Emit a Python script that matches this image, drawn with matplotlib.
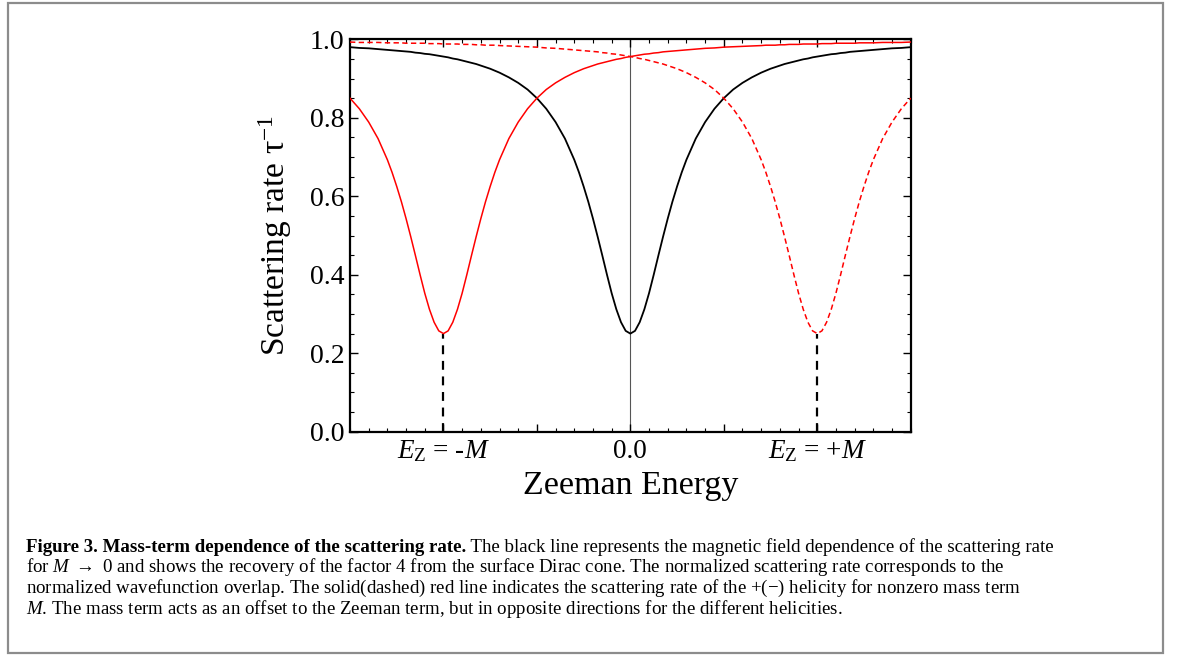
import matplotlib
matplotlib.use("Agg")
import matplotlib.pyplot as plt
from matplotlib.patches import Rectangle
from matplotlib.ticker import MultipleLocator, FixedLocator

plt.rcParams['font.family'] = ['Liberation Serif', 'DejaVu Serif']
plt.rcParams['mathtext.fontset'] = 'custom'
plt.rcParams['mathtext.rm'] = 'Liberation Serif'
plt.rcParams['mathtext.it'] = 'Liberation Serif:italic'
plt.rcParams['mathtext.bf'] = 'Liberation Serif:bold'

# Zeeman energy in units of the mass term M
zeeman = [-1.5, -1.45, -1.4, -1.35,
          -1.3, -1.275, -1.25, -1.225, -1.2, -1.175, -1.15, -1.125, -1.1, -1.075,
          -1.05, -1.025, -1.0, -0.975, -0.95, -0.925, -0.9, -0.875, -0.85, -0.825,
          -0.8, -0.775, -0.75, -0.725, -0.7,
          -0.65, -0.6, -0.55, -0.5, -0.45, -0.4, -0.35,
          -0.3, -0.275, -0.25, -0.225, -0.2, -0.175, -0.15, -0.125, -0.1, -0.075,
          -0.05, -0.025, 0.0, 0.025, 0.05, 0.075, 0.1, 0.125, 0.15, 0.175,
          0.2, 0.225, 0.25, 0.275, 0.3,
          0.35, 0.4, 0.45, 0.5, 0.55, 0.6, 0.65,
          0.7, 0.725, 0.75, 0.775, 0.8, 0.825, 0.85, 0.875, 0.9, 0.925,
          0.95, 0.975, 1.0, 1.025, 1.05, 1.075, 1.1, 1.125, 1.15, 1.175,
          1.2, 1.225, 1.25, 1.275, 1.3,
          1.35, 1.4, 1.45, 1.5]

# M -> 0 (black)
rate_massless = [0.980, 0.978, 0.977, 0.975,
                 0.973, 0.972, 0.971, 0.970, 0.969, 0.968, 0.966, 0.965, 0.963, 0.962,
                 0.960, 0.958, 0.956, 0.954, 0.951, 0.949, 0.946, 0.943, 0.940, 0.937,
                 0.933, 0.929, 0.925, 0.920, 0.915,
                 0.903, 0.889, 0.872, 0.850, 0.823, 0.789, 0.747,
                 0.693, 0.661, 0.625, 0.586, 0.543, 0.497, 0.449, 0.400, 0.353, 0.312,
                 0.279, 0.257, 0.250, 0.257, 0.279, 0.312, 0.353, 0.400, 0.449, 0.497,
                 0.543, 0.586, 0.625, 0.661, 0.693,
                 0.747, 0.789, 0.823, 0.850, 0.872, 0.889, 0.903,
                 0.915, 0.920, 0.925, 0.929, 0.933, 0.937, 0.940, 0.943, 0.946, 0.949,
                 0.951, 0.954, 0.956, 0.958, 0.960, 0.962, 0.963, 0.965, 0.966, 0.968,
                 0.969, 0.970, 0.971, 0.972, 0.973,
                 0.975, 0.977, 0.978, 0.980]

# + helicity (solid red)
rate_plus = [0.850, 0.823, 0.789, 0.747,
             0.693, 0.661, 0.625, 0.586, 0.543, 0.497, 0.449, 0.400, 0.353, 0.312,
             0.279, 0.257, 0.250, 0.257, 0.279, 0.312, 0.353, 0.400, 0.449, 0.497,
             0.543, 0.586, 0.625, 0.661, 0.693,
             0.747, 0.789, 0.823, 0.850, 0.872, 0.889, 0.903,
             0.915, 0.920, 0.925, 0.929, 0.933, 0.937, 0.940, 0.943, 0.946, 0.949,
             0.951, 0.954, 0.956, 0.958, 0.960, 0.962, 0.963, 0.965, 0.966, 0.968,
             0.969, 0.970, 0.971, 0.972, 0.973,
             0.975, 0.977, 0.978, 0.980, 0.981, 0.982, 0.983,
             0.984, 0.985, 0.985, 0.985, 0.986, 0.986, 0.987, 0.987, 0.987, 0.988,
             0.988, 0.988, 0.988, 0.989, 0.989, 0.989, 0.990, 0.990, 0.990, 0.990,
             0.990, 0.991, 0.991, 0.991, 0.991,
             0.992, 0.992, 0.992, 0.993]

# - helicity (dashed red)
rate_minus = [0.993, 0.992, 0.992, 0.992,
              0.991, 0.991, 0.991, 0.991, 0.990, 0.990, 0.990, 0.990, 0.990, 0.989,
              0.989, 0.989, 0.988, 0.988, 0.988, 0.988, 0.987, 0.987, 0.987, 0.986,
              0.986, 0.985, 0.985, 0.985, 0.984,
              0.983, 0.982, 0.981, 0.980, 0.978, 0.977, 0.975,
              0.973, 0.972, 0.971, 0.970, 0.969, 0.968, 0.966, 0.965, 0.963, 0.962,
              0.960, 0.958, 0.956, 0.954, 0.951, 0.949, 0.946, 0.943, 0.940, 0.937,
              0.933, 0.929, 0.925, 0.920, 0.915,
              0.903, 0.889, 0.872, 0.850, 0.823, 0.789, 0.747,
              0.693, 0.661, 0.625, 0.586, 0.543, 0.497, 0.449, 0.400, 0.353, 0.312,
              0.279, 0.257, 0.250, 0.257, 0.279, 0.312, 0.353, 0.400, 0.449, 0.497,
              0.543, 0.586, 0.625, 0.661, 0.693,
              0.747, 0.789, 0.823, 0.850]

minima_x = [-1.0, 1.0]
minima_y = [0.25, 0.25]

xtick_pos = [-1.0, -0.5, 0.0, 0.5, 1.0]
xtick_labels = [r"$E_{\mathrm{Z}}$ = -$M$", "", "0.0", "", r"$E_{\mathrm{Z}}$ = +$M$"]

caption_bold = "Figure 3. Mass-term dependence of the scattering rate."
caption_lines = [
    " The black line represents the magnetic field dependence of the scattering rate",
    r"for $M$ $\rightarrow$ 0 and shows the recovery of the factor 4 from the surface Dirac cone. The normalized scattering rate corresponds to the",
    r"normalized wavefunction overlap. The solid(dashed) red line indicates the scattering rate of the +($-$) helicity for nonzero mass term",
    r"$M$. The mass term acts as an offset to the Zeeman term, but in opposite directions for the different helicities.",
]

fig = plt.figure(figsize=(11.81, 6.55), dpi=100)
fig.patches.append(Rectangle((8 / 1181, 2 / 655), 1155 / 1181, 650 / 655,
                             transform=fig.transFigure, fill=False,
                             edgecolor='#8c8c8c', linewidth=1.6))

ax = fig.add_axes([350 / 1181, 1 - 431.7 / 655, 560.7 / 1181, 392.4 / 655])

ax.axvline(0.0, color='#555555', lw=0.8, zorder=1)
for xm, ym in zip(minima_x, minima_y):
    ax.plot([xm, xm], [0, ym], color='black', lw=1.6, ls=(0, (4, 3)), zorder=2)

ax.plot(zeeman, rate_massless, color='black', lw=1.3, zorder=3)
ax.plot(zeeman, rate_minus, color='red', lw=1.1, ls=(0, (3.5, 2.2)), zorder=3)
ax.plot(zeeman, rate_plus, color='red', lw=1.1, zorder=4)

ax.set_xlim(-1.5, 1.5)
ax.set_ylim(0.0, 1.0)
ax.xaxis.set_major_locator(FixedLocator(xtick_pos))
ax.set_xticklabels(xtick_labels)
ax.xaxis.set_minor_locator(MultipleLocator(0.1))
ax.yaxis.set_major_locator(MultipleLocator(0.2))
ax.yaxis.set_minor_locator(MultipleLocator(0.05))
ax.tick_params(which='both', direction='in', top=True, right=True)
ax.tick_params(which='major', length=6, width=1.0)
ax.tick_params(which='minor', length=3, width=0.8)
ax.tick_params(axis='x', which='major', labelsize=19.5, pad=5)
ax.tick_params(axis='y', which='major', labelsize=20, pad=4)
for sp in ax.spines.values():
    sp.set_linewidth(1.6)

ax.set_xlabel("Zeeman Energy", fontsize=24.5)
ax.xaxis.set_label_coords(0.5, -0.1)
ax.set_ylabel(r"Scattering rate τ$^{\mathregular{-1}}$", fontsize=24)
ax.yaxis.set_label_coords(-0.1, 0.5)

# caption
fs = 13.6
y0 = 1 - 552 / 655
dy = 20.5 / 655
x0 = 26 / 1181
tb = fig.text(x0, y0, caption_bold, fontsize=fs, fontweight='bold', va='baseline')
fig.canvas.draw()
bb = tb.get_window_extent()
fig.text(bb.x1 / 1181, y0, caption_lines[0], fontsize=fs, va='baseline')
for i, line in enumerate(caption_lines[1:], start=1):
    fig.text(x0, y0 - i * dy, line, fontsize=fs, va='baseline')

fig.savefig("out.png", dpi=100)
